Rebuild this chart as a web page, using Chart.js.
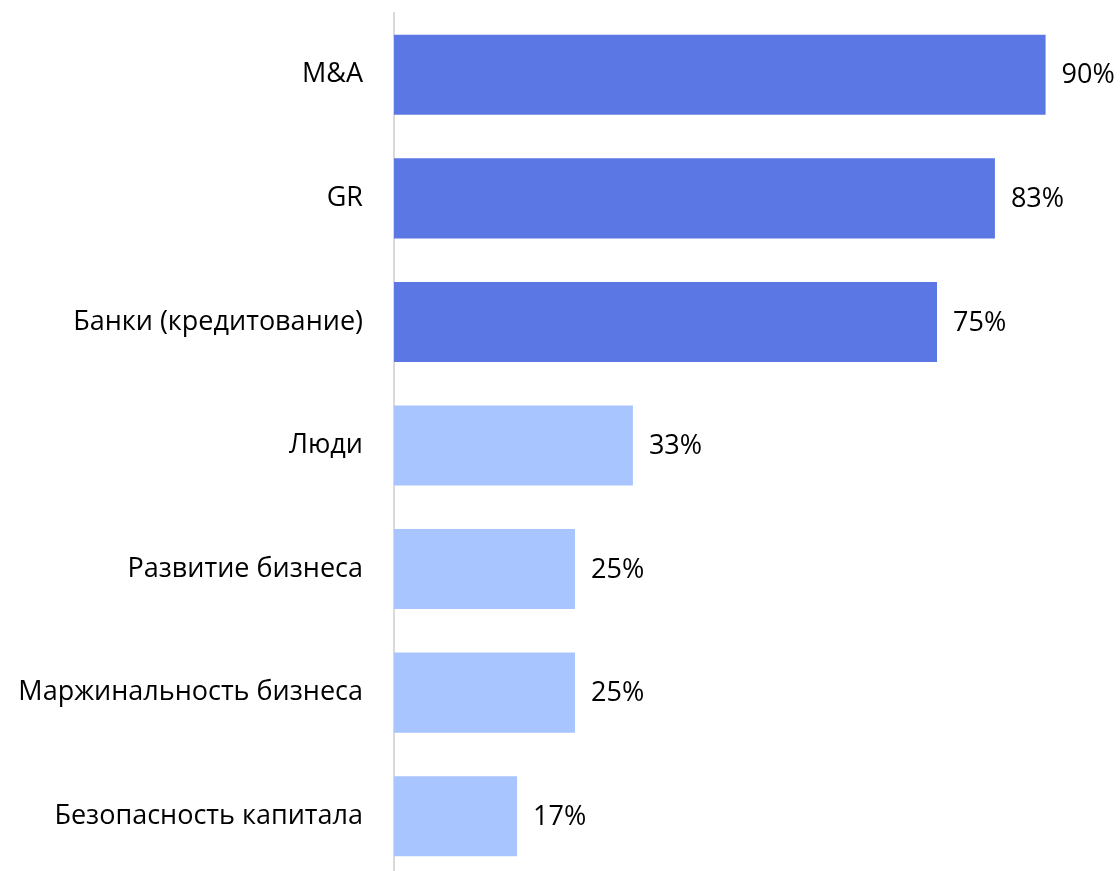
<!DOCTYPE html>
<html>
<head>
<meta charset="utf-8">
<script src="https://cdn.jsdelivr.net/npm/chart.js@4"></script>
<style>
  html, body { margin: 0; padding: 0; background: #fff; overflow: hidden; }
  canvas { display: block; }
</style>
</head>
<body>
<canvas id="barChart" width="1120" height="878"></canvas>
<script>
// Data
const categories = ['M&A', 'GR', 'Банки (кредитование)', 'Люди', 'Развитие бизнеса', 'Маржинальность бизнеса', 'Безопасность капитала'];
const shares = [90, 83, 75, 33, 25, 25, 17];

// first three answers are highlighted in the darker blue
const darkBlue = '#5b77e3';
const lightBlue = '#a9c5ff';
const barColors = shares.map((v, i) => i < 3 ? darkBlue : lightBlue);

const fontFamily = "'Open Sans', 'Noto Sans', sans-serif";
const fontSize = 27;

// draws "NN%" to the right of each bar
const valueLabels = {
    id: 'valueLabels',
    afterDatasetsDraw(chart) {
        const ctx = chart.ctx;
        const meta = chart.getDatasetMeta(0);
        ctx.save();
        ctx.font = fontSize + 'px ' + fontFamily;
        ctx.fillStyle = '#000';
        ctx.textAlign = 'left';
        ctx.textBaseline = 'middle';
        meta.data.forEach((bar, i) => {
            ctx.fillText(shares[i] + '%', bar.x + 16, bar.y + 1);
        });
        ctx.restore();
    }
};

const ctx = document.getElementById('barChart').getContext('2d');
new Chart(ctx, {
    type: 'bar',
    data: {
        labels: categories,
        datasets: [{
            data: shares,
            backgroundColor: barColors,
            borderWidth: 0,
            barPercentage: 0.648,
            categoryPercentage: 1
        }]
    },
    options: {
        indexAxis: 'y',
        responsive: false,
        animation: false,
        layout: { padding: { top: 13, right: 2, bottom: 0, left: 0 } },
        plugins: {
            legend: { display: false },
            tooltip: { enabled: false }
        },
        scales: {
            x: {
                display: false,
                min: 0,
                max: 100
            },
            y: {
                grid: { display: false, drawTicks: false },
                border: { display: true, color: '#d9d9d9', width: 2 },
                ticks: {
                    color: '#000',
                    padding: 31,
                    font: { family: fontFamily, size: fontSize }
                },
                afterFit(scale) {
                    // fixed label column, and no extra room above/below the bars
                    scale.width = 394;
                    scale.paddingTop = 0;
                    scale.paddingBottom = 0;
                }
            }
        }
    },
    plugins: [valueLabels]
});
</script>
</body>
</html>
